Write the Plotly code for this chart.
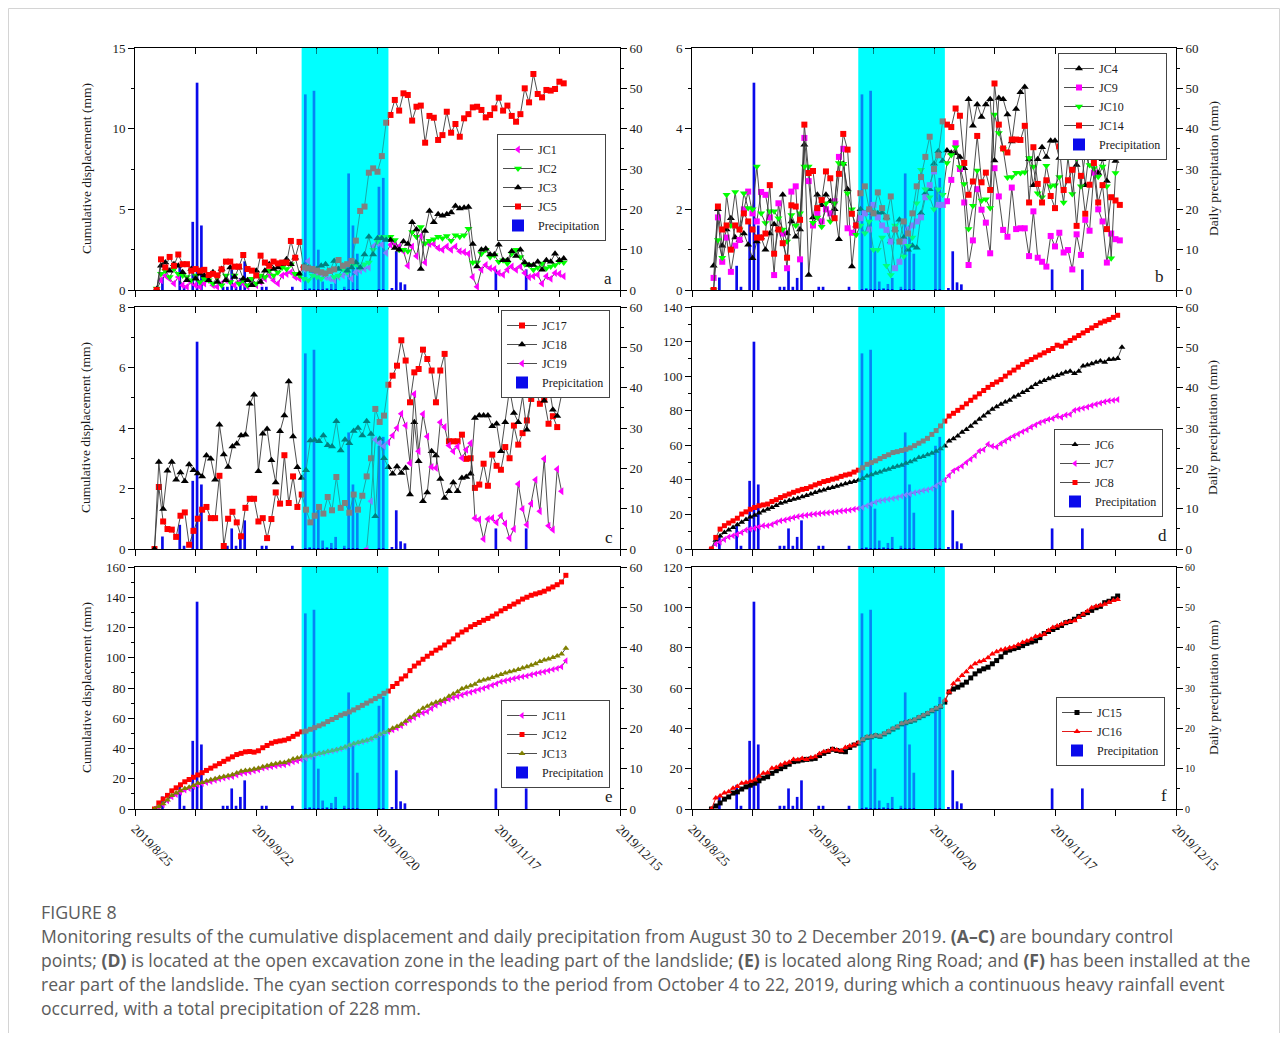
import plotly.graph_objects as go
import pandas as pd

W, H, OFF = 1272, 1025, 8

def xd(px):
    return (px - OFF) / W

def yd(py):
    return 1 - (py - OFF) / H

# ---------------- data ----------------
precip_dates = ["2019-08-31", "2019-09-04", "2019-09-05", "2019-09-07", "2019-09-08", "2019-09-09",
                "2019-09-14", "2019-09-15", "2019-09-16", "2019-09-17", "2019-09-18", "2019-09-19",
                "2019-09-23", "2019-09-24", "2019-09-30", "2019-10-03", "2019-10-04", "2019-10-05",
                "2019-10-06", "2019-10-07", "2019-10-08", "2019-10-09", "2019-10-10", "2019-10-12",
                "2019-10-13", "2019-10-14", "2019-10-15", "2019-10-20", "2019-10-21", "2019-10-23",
                "2019-10-24", "2019-10-25", "2019-10-26", "2019-11-16", "2019-11-23"]
precip_mm = [3.1, 6.0, 0.8, 16.9, 51.4, 16.0,
             0.8, 0.8, 5.1, 0.8, 3.0, 7.1,
             0.8, 0.8, 0.8, 48.5, 0.3, 49.4,
             10.0, 2.1, 0.5, 1.5, 3.0, 0.8,
             28.9, 16.0, 9.0, 25.6, 27.8, 0.5,
             9.6, 1.9, 1.4, 5.1, 5.1]

rain_start, rain_end = "2019-10-02 12:00", "2019-10-22 12:00"
x_range = ["2019-08-25", "2019-12-15"]
tick_dates = ["2019-08-25", "2019-09-08", "2019-09-22", "2019-10-06", "2019-10-20",
              "2019-11-03", "2019-11-17", "2019-12-01", "2019-12-15"]
tick_labels = ["2019/8/25", "", "2019/9/22", "", "2019/10/20", "", "2019/11/17", "", "2019/12/15"]

# panel a  (daily from 2019-08-30)
JC1 = [0.0, 0.6, 0.9, 0.7, 0.4, 0.8, 0.3, 0.2, 0.5, 0.3, 0.2, 0.4, 0.6, 0.3, 0.2, 0.4, 0.6, 0.5, 0.3, 0.5,
       0.4, 0.2, 0.6, 0.3, 0.5, 0.7, 0.9, 0.6, 0.4, 0.9, 1.0, 1.1, 0.8, 0.7, 1.3, 1.8, 1.2, 0.9, 1.0, 0.8,
       0.7, 0.6, 0.8, 0.9, 1.0, 0.7, 1.1, 1.2, 1.3, 1.4, 2.7, 2.9, 2.8,
       2.3, 2.8, 2.9, 2.7, 2.4, 1.5, 2.7, 2.1, 3.35, 1.7, 2.85, 2.85, 2.6, 2.5, 2.7, 2.5, 2.7, 2.4, 2.35, 2.25,
       0.8, 0.2, 1.25, 1.55, 1.35, 1.3, 1.05, 0.95, 1.25, 1.45, 1.25, 1.45, 1.05, 0.8, 0.85, 0.95, 0.4, 0.85,
       0.7, 1.05, 1.0, 0.85]
JC2 = [0.1, 1.0, 1.2, 0.8, 1.3, 1.0, 0.9, 0.8, 0.6, 0.9, 0.5, 0.7, 0.6, 0.4, 0.8, 0.3, 0.9, 0.5, 0.9, 0.4,
       0.6, 0.3, 0.7, 0.4, 0.9, 0.8, 1.2, 0.9, 1.1, 1.4, 1.3, 1.6, 1.0, 0.9, 0.7, 0.6, 0.9, 0.8, 0.7, 1.0,
       1.2, 0.8, 0.9, 1.3, 1.1, 1.5, 1.6, 1.4, 1.6, 1.7, 2.5, 3.0, 3.3,
       3.3, 3.3, 3.1, 2.5, 2.5, 2.4, 3.6, 3.3, 3.9, 2.9, 3.05, 3.15, 3.3, 3.2, 3.35, 3.05, 3.4, 3.3, 3.4, 3.8,
       1.7, 1.7, 2.25, 2.5, 2.05, 2.15, 1.75, 1.85, 1.65, 2.25, 2.5, 2.05, 1.6, 1.55, 1.25, 1.4, 1.65, 1.35,
       1.45, 1.55, 1.75, 1.7]
JC3 = [0.05, 1.5, 1.7, 1.2, 1.6, 1.5, 1.1, 0.6, 1.3, 0.7, 1.0, 0.9, 0.6, 1.1, 0.5, 1.3, 0.6, 1.4, 0.8, 1.4,
       0.7, 0.6, 0.3, 1.2, 0.5, 1.2, 1.6, 1.3, 1.4, 1.6, 1.9, 1.6, 2.0, 1.0, 1.5, 1.4, 1.2, 1.3, 1.5, 1.6,
       1.2, 1.8, 1.3, 1.5, 1.2, 1.4, 1.7, 1.4, 2.2, 3.3, 2.2, 3.2, 3.2,
       3.1, 3.1, 2.6, 2.5, 3.0, 2.85, 4.2, 3.75, 1.3, 3.65, 4.9, 4.2, 4.7, 4.6, 4.7, 4.8, 5.2, 5.05, 5.1, 5.15,
       2.85, 1.45, 2.5, 2.55, 2.2, 2.2, 2.8, 1.85, 1.85, 2.4, 2.1, 2.5, 1.7, 1.55, 1.55, 1.75, 1.25, 1.85,
       1.75, 2.25, 1.85, 1.95]
JC5 = [0.0, 1.9, 1.4, 2.05, 1.5, 2.2, 1.6, 1.6, 1.2, 1.3, 1.2, 1.25, 0.93, 1.0, 0.91, 1.28, 1.76, 1.76, 1.45, 1.45,
       2.17, 1.3, 1.2, 0.9, 2.13, 1.7, 1.5, 1.76, 1.65, 1.7, 1.7, 3.04, 2.0, 2.98, 1.4, 1.34, 1.3, 1.2, 1.1, 1.03,
       1.18, 1.28, 1.86, 1.5, 1.6, 1.8, 3.06, 4.9, 5.17, 7.27, 7.54, 7.33, 8.3,
       10.37, 10.85, 11.78, 11.12, 12.19, 12.09, 10.5, 11.36, 11.43, 9.13, 10.79, 10.68, 9.3, 9.6, 11.05, 9.75,
       10.29, 9.5, 10.64, 10.9, 11.32, 11.36, 11.16, 10.7, 10.85, 11.26, 11.92, 11.12, 11.43, 10.79, 10.43, 10.9,
       12.5, 11.63, 13.39, 12.15, 11.94, 12.4, 12.36, 12.46, 12.91, 12.81]

# panel b  (daily from 2019-08-30)
JC4 = [0.6, 2.0, 1.1, 1.5, 1.78, 1.3, 1.24, 1.4, 1.12, 0.79, 1.2, 1.3, 1.0, 1.4, 1.63, 1.5, 2.36, 1.4, 1.7, 1.32,
       1.5, 3.6, 0.37, 1.8, 2.36, 2.1, 2.36, 2.2, 2.0, 1.26, 3.13, 2.5, 0.58, 1.6, 2.0, 1.9, 2.0, 1.9, 1.9, 1.92,
       1.8, 1.2, 1.5, 1.74, 1.3, 1.0, 1.1, 1.05, 1.9, 2.4, 2.5, 3.13, 3.44,
       3.2, 3.46, 3.4, 3.39, 3.3, 3.02, 4.73, 4.07, 4.6, 4.29, 4.6, 4.73, 3.21, 4.76, 4.73, 4.35, 3.68, 4.49, 4.9, 5.03,
       3.24, 2.6, 3.24, 3.54, 3.3, 3.7, 3.7, 3.27, 3.35, 3.35, 3.6, 3.1, 3.55, 2.6, 3.5, 3.3, 2.9, 3.24, 2.7, 3.6,
       3.2, 3.46]
JC9 = [0.3, 1.8, 0.7, 1.3, 0.45, 1.1, 1.24, 2.0, 2.44, 1.9, 1.7, 2.43, 2.36, 1.8, 0.37, 2.15, 1.4, 0.54, 2.44, 2.57,
       0.76, 3.77, 2.7, 1.6, 1.9, 1.7, 2.0, 1.9, 2.2, 3.3, 3.5, 1.53, 1.42, 1.6, 1.78, 1.9, 1.5, 2.11, 1.8, 1.6,
       1.49, 1.2, 0.54, 0.7, 1.2, 1.5, 1.6, 1.7, 1.8, 2.3, 2.6, 2.94, 2.11,
       2.11, 2.2, 2.73, 3.64, 3.0, 2.17, 0.62, 1.23, 2.5, 1.99, 1.67, 0.91, 3.02, 2.32, 1.49, 1.32, 2.54, 1.51,
       1.53, 1.53, 0.84, 1.95, 0.8, 0.7, 0.58, 1.34, 1.08, 1.42, 0.93, 0.99, 0.51, 1.38, 0.87, 1.74, 1.47, 2.91,
       2.0, 1.7, 0.68, 1.4, 1.26, 1.23]
JC10 = [0.0, 1.24, 0.8, 2.36, 1.6, 2.43, 1.5, 2.4, 2.03, 2.0, 3.06, 1.9, 1.66, 1.95, 1.95, 1.78, 1.5, 1.2, 1.86, 1.6,
        1.9, 3.06, 3.06, 1.67, 1.8, 1.57, 2.15, 1.7, 2.15, 3.15, 3.13, 2.4, 2.0, 1.37, 1.6, 1.41, 1.7, 1.0, 1.0, 1.3,
        0.6, 0.37, 1.6, 1.2, 0.83, 1.1, 1.3, 2.15, 2.98, 2.5, 2.3, 2.0, 2.5,
        2.36, 3.15, 3.35, 3.54, 3.05, 2.63, 1.51, 2.09, 2.96, 2.22, 2.25, 2.03, 4.35, 3.89, 3.49, 2.79, 2.8, 2.91,
        2.9, 2.92, 3.27, 3.06, 2.4, 2.3, 3.08, 2.57, 2.6, 2.8, 2.17, 3.29, 2.38, 3.27, 2.57, 3.35, 3.1, 3.02,
        2.81, 3.06, 2.57, 0.79, 2.9, 3.48]
JC14 = [0.0, 2.07, 1.5, 1.6, 1.0, 1.6, 1.5, 1.9, 1.7, 1.5, 1.3, 1.3, 1.4, 2.6, 0.9, 1.5, 1.16, 0.8, 2.1, 2.07,
        1.74, 4.1, 2.9, 2.95, 2.03, 2.23, 2.94, 2.77, 1.78, 2.88, 3.87, 3.48, 1.89, 1.6, 2.4, 2.57, 2.0, 1.9, 2.42, 2.03,
        1.8, 2.32, 1.5, 1.2, 1.7, 1.4, 1.9, 2.57, 2.8, 3.3, 3.8, 3.0, 3.34,
        4.18, 4.1, 4.04, 4.5, 4.32, 3.15, 2.36, 2.69, 3.82, 2.67, 2.91, 2.48, 5.12, 4.1, 3.51, 3.41, 3.73, 3.73,
        3.72, 4.07, 2.17, 3.54, 2.63, 2.17, 2.72, 2.33, 2.03, 3.56, 2.48, 2.72, 2.98, 1.59, 2.83, 1.89, 2.61, 3.15,
        2.17, 2.6, 1.51, 2.3, 2.22, 2.11]

# panel c  (daily from 2019-08-29; JC19 from 2019-10-17)
JC17 = [0, 2.05, 0.91, 0.66, 0.64, 0.4, 1.1, 1.21, 0.14, 0.6, 1.0, 1.3,
        1.39, 1.02, 1.02, 2.42, 0.1, 1.0, 1.23, 0.88, 0.42, 1.36,
        1.66, 1.66, 0.91, 1.02, 0.36, 0.99, 1.87, 1.5, 3.1, 1.52,
        2.4, 1.39, 1.8, 1.3, 0.88, 1.1, 1.39, 1.17, 1.72, 1.28,
        2.38, 1.36, 1.52, 1.2, 1.8, 1.3, 1.76, 2.4, 3.0, 4.63,
        4.2, 4.41, 5.43, 5.73, 6.06, 6.9, 6.23, 4.85, 5.84, 5.95,
        6.59, 6.28, 5.9, 4.85, 5.9, 6.45, 3.56, 3.56, 3.56, 3.78,
        2.98, 3.0, 2.02, 2.13, 2.82, 2.09, 3.12, 2.75, 2.62, 3.37,
        3.0, 4.08, 3.45, 3.83, 4.25, 4.96, 5.3, 4.8, 4.94, 4.14,
        4.39, 4.03]
JC18 = [0, 2.88, 1.32, 2.59, 2.88, 2.29, 2.53, 2.24, 2.79, 2.6, 2.5, 2.4,
        3.09, 2.98, 2.29, 4.11, 3.12, 2.71, 3.39, 3.48, 3.75, 3.78,
        4.8, 5.1, 2.57, 3.81, 3.97, 2.93, 2.2, 3.89, 4.41, 5.54,
        3.72, 2.7, 2.35, 2.6, 3.59, 3.6, 3.56, 3.75, 3.43, 3.39,
        4.22, 3.26, 3.61, 3.5, 3.9, 4.0, 3.75, 4.22, 3.8, 1.08,
        3.64, 3.0, 2.7, 2.49, 2.73, 2.51, 2.68, 1.8, 4.19, 2.9,
        1.58, 1.87, 3.23, 3.09, 2.31, 1.69, 1.91, 2.2, 1.91, 2.35,
        2.38, 2.49, 4.33, 4.41, 4.41, 4.41, 4.06, 4.14, 3.23, 4.19,
        5.29, 4.5, 4.19, 5.05, 3.94, 5.05, 5.3, 5.6, 4.9, 5.5,
        4.6, 4.4, 5.1]
JC19 = [0.0, 1.58, 3.61, 3.5, 3.4, 3.53, 3.75, 4.0, 4.47, 4.08, 2.84, 5.12, 3.23, 4.46, 3.72, 2.71, 2.68,
        4.19, 4.03, 3.42, 3.23, 3.39, 3.01, 3.28, 3.5, 1.02, 0.97, 0.33, 0.99, 1.02, 0.88, 1.1, 0.84, 0.36,
        0.66, 2.15, 1.32, 0.8, 1.5, 2.29, 1.25, 2.98, 0.77, 0.64, 2.64, 1.91]

# panel d  (daily from 2019-08-29)
JC6 = [0, 5, 7.5, 9.5, 11, 12.5, 14, 15.5, 17, 18.5,
       19.5, 20.8, 22, 23, 24, 25.2, 26.5, 27.2, 28, 28.8,
       29.4, 30.2, 31, 31.8, 32.7, 33.5, 34.2, 35, 35.6, 36.3,
       37, 37.8, 38.5, 39, 39.8, 40.8, 42.3, 43, 43.8, 44.6,
       45.5, 46.2, 47.1, 47.8, 48.5, 49.6, 50.5, 51.5, 52.9, 53.5,
       54.5, 55.4, 56.5, 58, 59.6, 62.5, 63.8, 65.4, 67.5, 69.2,
       71, 73.1, 75, 76.9, 78.8, 80.8, 82.3, 83.7, 85, 86,
       88, 89, 90.5, 91.7, 93.5, 95.2, 96.5, 97.5, 98.5, 99.4,
       100.4, 101.3, 102.2, 102.9, 101.5, 102.9, 105.8, 106.5, 107.1, 108,
       108.7, 108, 109.6, 109.8, 110.2, 116.7]
JC7 = [0.5, 2.9, 4, 5.5, 7, 7.7, 8.5, 9.5, 11, 11.5,
       12, 12.8, 13.5, 13.5, 14.2, 15.3, 16.3, 16.8, 17.5, 18.2,
       18.8, 19.2, 19.5, 20, 20.2, 20.5, 20.8, 21, 21.2, 21.5,
       22, 22.2, 22.5, 23, 23.5, 24, 25, 26, 27, 27.9,
       28.3, 28.8, 29.2, 29.8, 30.5, 31.2, 31.8, 32.5, 33.1, 33.8,
       34.3, 35, 36.5, 38, 40, 42.5, 45.2, 46.5, 48, 50,
       51.9, 54, 56.7, 57.5, 60.6, 59.5, 59, 61, 62.5, 64,
       65.4, 66.5, 67.9, 69, 70.6, 71.8, 73.1, 74, 75, 75.5,
       76.9, 76.2, 77.5, 77.9, 80.2, 80.8, 81.5, 82.1, 83, 83.7,
       84.5, 85.2, 85.8, 86, 86.5]
JC8 = [0, 6.7, 11.5, 13.5, 15, 16.3, 17.8, 20.2, 21.5, 23,
       24, 25, 25.5, 26, 27.5, 28.5, 29.8, 30.8, 31.8, 32.8,
       33.7, 34.5, 35, 36, 37.1, 38, 39, 39.6, 40.4, 41,
       42, 42.8, 43.3, 44.5, 45.6, 47, 49, 50, 51, 52.3,
       53.5, 54.5, 55.8, 56.3, 57, 57.7, 58.5, 59.8, 61.2, 62.5,
       64, 66.3, 68.5, 71.2, 74, 76.9, 78.5, 80.2, 82, 84,
       86, 87.9, 89.8, 91.7, 93.5, 95.2, 96.6, 98, 100, 101.9,
       103.5, 105.2, 106.8, 108.3, 109.6, 111, 112.2, 113.5, 114.8, 116,
       117.9, 117.3, 119.2, 120.6, 122.1, 123.5, 125, 126.4, 127.9, 129.3,
       130.8, 131.8, 132.7, 134, 135.2]

# panel e  (daily from 2019-08-29)
JC11 = [0, 1, 3, 5.5, 8, 9.5, 11, 12.5, 13.5, 14.8,
        16, 16.8, 17.5, 18.2, 19, 19.8, 20.5, 21.1, 21.5, 22.5,
        23.5, 24, 24.5, 25.2, 26, 27, 27.5, 28, 28.5, 29,
        29.2, 30.2, 31.2, 31.8, 32.5, 33.5, 34.5, 35.5, 36.5, 37,
        37.8, 38.3, 39, 39.8, 40.8, 42, 43, 43.8, 44.5, 45.3,
        46.3, 47.8, 49.3, 50.3, 51.2, 52.3, 53.5, 55, 57, 59,
        60.5, 62.3, 63.5, 64.4, 66.5, 68.5, 69.9, 71.2, 72.5, 73.5,
        74.5, 75.4, 76.5, 77.2, 78, 79, 79.8, 80.8, 81.8, 82.8,
        84.2, 84.8, 85.5, 86.3, 87, 87.5, 88, 88.8, 89.5, 90.2,
        90.8, 91.5, 92.3, 93, 94.1, 98]
JC12 = [0, 4, 6.6, 9, 12, 14, 16, 18, 19.5, 21,
        22.5, 24, 25.5, 27, 28.5, 30, 31.5, 33, 34.5, 36,
        36.8, 37.8, 38, 37.6, 38.5, 40.5, 42, 43.5, 44.5, 45,
        45.5, 46.5, 48, 49.5, 51, 51.5, 52.7, 53.8, 55, 56.2,
        57.8, 59.2, 60.5, 62, 63, 64.2, 65.5, 67, 68.5, 70,
        71.5, 73, 74.5, 76.5, 78, 81, 83, 86, 88, 91.5,
        94.5, 96.5, 99, 101, 103, 105, 106.5, 108.4, 110.5, 112.5,
        115, 117, 118.5, 120.5, 122, 123.3, 124.8, 126, 127.5, 129,
        131, 132.5, 134, 135.5, 137, 138.8, 140, 141.3, 142.2, 143,
        144, 145.5, 146.8, 148.3, 150.1, 154.5]
JC13 = [0, 1.5, 3.5, 6, 9, 10.5, 12, 13.5, 14.3, 15.5,
        17, 17.6, 18.5, 19.3, 20, 20.8, 21.5, 22, 22.6, 23.8,
        25, 25.5, 25.8, 26.4, 27, 28, 28.6, 29.5, 30, 30.5,
        30.8, 31.8, 33, 33.8, 34.5, 35, 35.2, 36, 36.8, 37.2,
        38, 38.5, 39.2, 40, 41, 42.2, 43.2, 44, 44.8, 45.5,
        46.5, 48, 49.5, 50.5, 51.8, 53.4, 54.5, 56, 58, 60.5,
        62.2, 64.5, 66.6, 68, 69.5, 70.5, 71.5, 72.5, 74.5, 76,
        77.5, 79.5, 80.5, 81.5, 82.5, 84.5, 85.3, 86, 87, 88,
        89, 90, 90.8, 91.4, 92.2, 93.3, 94, 95, 96, 97.5,
        98.5, 99.2, 100.2, 101.2, 102.4, 106.2]

# panel f  (daily from 2019-08-29)
JC15 = [0, 1.5, 3, 4.9, 6, 7.9, 8.5, 9.9, 11, 11.8,
        12.8, 14, 15.3, 16, 17.7, 19, 20, 21, 22.2, 23.5,
        23.8, 24.3, 24.6, 24.8, 25.1, 26.5, 27.6, 28.5, 29.6, 29,
        28.6, 28.4, 30.5, 31.7, 32.6, 34.3, 35.5, 35.8, 36.4, 36,
        37.2, 38.3, 39.6, 40.6, 42.2, 42.8, 43.4, 44.1, 45.3, 46.3,
        47.3, 48.7, 49.8, 50.8, 53, 58, 59.5, 60.4, 61.5, 62.9,
        65, 67, 68.5, 69.5, 70.3, 72, 73.6, 75.5, 77.7, 78.8,
        79.5, 80.1, 81, 82.1, 82.8, 83.4, 85, 87, 88, 89,
        90, 91, 92.4, 93, 94.1, 95.5, 96.5, 97.4, 98.5, 99.8,
        100.5, 102.3, 103, 104.2, 105.6]
JC16 = [0, 5.4, 6.5, 7.9, 8.6, 10.3, 11.2, 12.8, 13.2, 13.8,
        14.4, 16.2, 17.7, 18, 20.2, 20.6, 21.8, 22.7, 23.2, 24.6,
        24.4, 25, 24.6, 25.4, 25.9, 27.4, 28.4, 28.8, 29.6, 29.3,
        28.9, 30.5, 31.2, 31.7, 32.8, 34.5, 35.8, 36, 36.6, 36.2,
        37.4, 38.5, 39.9, 40.8, 42.4, 43, 43.6, 44.3, 45.5, 46.5,
        47.5, 48.9, 50, 51, 53.9, 58, 62.1, 64, 66.2, 68,
        70.3, 72, 73, 73.6, 75, 76.8, 78, 78.8, 79.3, 80,
        80.5, 81.5, 82.6, 83.3, 84.2, 85.5, 86, 86.7, 88.5, 90,
        90.8, 91.6, 92.5, 93, 93.3, 95, 96.6, 98, 99.8, 100.5,
        101, 101.5, 102.5, 103.4, 103.9]

# ---------------- styling ----------------
SERIF = "Liberation Serif"
RED, BLACK, MAG, GREEN, OLIVE = "#ff0000", "#000000", "#ff00ff", "#00ff00", "#808000"
LINE = "#3a3a3a"
BLUE = "#0a0aeb"
CYAN = "#00ffff"

START_AB = "2019-08-30"
START_CF = "2019-08-29 12:00"

cols = [(135, 620), (692, 1176)]
rows = [(48, 290), (307, 549), (567, 809)]

panels = [
    dict(letter="a", col=0, row=0, ymax=15, dtick=5, minor=2.5, leg=(497, 134), lpos=(608, 278),
         bar="Precipitation",
         series=[("JC1", JC1, START_AB, MAG, "triangle-left", 7, LINE),
                 ("JC2", JC2, START_AB, GREEN, "triangle-down", 7, LINE),
                 ("JC3", JC3, START_AB, BLACK, "triangle-up", 7, LINE),
                 ("JC5", JC5, START_AB, RED, "square", 6, LINE)]),
    dict(letter="b", col=1, row=0, ymax=6, dtick=2, minor=1, leg=(1058, 53), lpos=(1159, 276),
         bar="Precipitation",
         series=[("JC4", JC4, START_AB, BLACK, "triangle-up", 7, LINE),
                 ("JC9", JC9, START_AB, MAG, "square", 6, LINE),
                 ("JC10", JC10, START_AB, GREEN, "triangle-down", 7, LINE),
                 ("JC14", JC14, START_AB, RED, "square", 6, LINE)]),
    dict(letter="c", col=0, row=1, ymax=8, dtick=2, minor=1, leg=(501, 310), lpos=(609, 537),
         bar="Prepicitation",
         series=[("JC17", JC17, START_CF, RED, "square", 6, LINE),
                 ("JC18", JC18, START_CF, BLACK, "triangle-up", 7, LINE),
                 ("JC19", JC19, "2019-10-17 12:00", MAG, "triangle-left", 7, LINE)]),
    dict(letter="d", col=1, row=1, ymax=140, dtick=20, minor=10, leg=(1054, 429), lpos=(1162, 535),
         bar="Precipitation",
         series=[("JC6", JC6, START_CF, BLACK, "triangle-up", 6, LINE),
                 ("JC7", JC7, START_CF, MAG, "triangle-left", 6, LINE),
                 ("JC8", JC8, START_CF, RED, "square", 5, LINE)]),
    dict(letter="e", col=0, row=2, ymax=160, dtick=20, minor=10, leg=(501, 700), lpos=(609, 796),
         bar="Precipitation",
         series=[("JC11", JC11, START_CF, MAG, "triangle-left", 6, LINE),
                 ("JC12", JC12, START_CF, RED, "square", 5, LINE),
                 ("JC13", JC13, START_CF, OLIVE, "triangle-up", 6, LINE)]),
    dict(letter="f", col=1, row=2, ymax=120, dtick=20, minor=10, leg=(1056, 697), lpos=(1164, 795),
         bar="Precipitation",
         series=[("JC15", JC15, START_CF, BLACK, "square", 5, LINE),
                 ("JC16", JC16, START_CF, RED, "triangle-up", 6, "#e00000")]),
]

fig = go.Figure()
layout = dict(width=W, height=H, margin=dict(l=0, r=0, t=0, b=0, autoexpand=False),
              paper_bgcolor="white", plot_bgcolor="rgba(0,0,0,0)", showlegend=True)
shapes = []
annotations = []

tickfont = dict(family=SERIF, size=13, color="#1a1a1a")

def yname(n):
    return "y" if n == 1 else f"y{n}"

def ykey(n):
    return "yaxis" if n == 1 else f"yaxis{n}"

def xname(n):
    return "x" if n == 1 else f"x{n}"

def xkey(n):
    return "xaxis" if n == 1 else f"xaxis{n}"

bar_x = [pd.Timestamp(d) + pd.Timedelta(hours=8) for d in precip_dates]

for i, p in enumerate(panels, start=1):
    c0, c1 = cols[p["col"]]
    r0, r1 = rows[p["row"]]
    base_y = 2 * i - 1
    over_y = 2 * i
    top_x = i + 6
    legname = "legend" if i == 1 else f"legend{i}"

    for name, vals, start, color, sym, size, lcol in p["series"]:
        xs = pd.date_range(start=start, periods=len(vals), freq="D")
        fig.add_trace(go.Scatter(
            x=xs, y=vals, name=name, mode="lines+markers",
            line=dict(color=lcol, width=0.9),
            marker=dict(color=color, symbol=sym, size=size, line=dict(width=0)),
            xaxis=xname(i), yaxis=yname(over_y), legend=legname, hoverinfo="skip"))
    fig.add_trace(go.Bar(
        x=bar_x, y=precip_mm, name=p["bar"], marker=dict(color=BLUE, line=dict(width=0)),
        width=0.62 * 86400000, xaxis=xname(i), yaxis=yname(base_y), legend=legname,
        hoverinfo="skip"))
    fig.add_trace(go.Scatter(
        x=bar_x, y=precip_mm, mode="lines", line=dict(width=0), opacity=0,
        showlegend=False, hoverinfo="skip", xaxis=xname(top_x), yaxis=yname(base_y)))

    bottom = p["row"] == 2
    layout[xkey(i)] = dict(
        type="date", domain=[xd(c0), xd(c1)], anchor=yname(base_y), range=x_range,
        tickmode="array", tickvals=tick_dates, ticktext=tick_labels,
        showticklabels=bottom, tickangle=45, tickfont=tickfont,
        ticks="outside", ticklen=6, tickwidth=1, tickcolor="black",
        showline=True, linecolor="black", linewidth=1, mirror=True,
        showgrid=False, zeroline=False, automargin=False)
    layout[xkey(top_x)] = dict(
        type="date", overlaying=xname(i), anchor=yname(base_y), side="top", range=x_range,
        tickmode="array", tickvals=tick_dates, showticklabels=False,
        ticks="inside", ticklen=6, tickwidth=1, tickcolor="black",
        showline=False, showgrid=False, zeroline=False, automargin=False)
    rfont = dict(tickfont) if p["letter"] != "f" else dict(family=SERIF, size=10, color="#1a1a1a")
    layout[ykey(base_y)] = dict(
        domain=[yd(r1), yd(r0)], anchor=xname(i), side="right", range=[0, 60],
        tickmode="linear", tick0=0, dtick=10, tickfont=rfont,
        ticks="outside", ticklen=6, tickwidth=1, tickcolor="black",
        minor=dict(dtick=5, ticks="outside", ticklen=3, tickcolor="black"),
        showline=True, linecolor="black", linewidth=1,
        showgrid=False, zeroline=False, automargin=False)
    layout[ykey(over_y)] = dict(
        overlaying=yname(base_y), anchor=xname(i), side="left", range=[0, p["ymax"]],
        tickmode="linear", tick0=0, dtick=p["dtick"], tickfont=tickfont,
        ticks="outside", ticklen=6, tickwidth=1, tickcolor="black",
        minor=dict(dtick=p["minor"], ticks="outside", ticklen=3, tickcolor="black"),
        showline=True, linecolor="black", linewidth=1,
        showgrid=False, zeroline=False, automargin=False)

    lx, ly = p["leg"]
    layout[legname] = dict(
        x=xd(lx), y=yd(ly), xanchor="left", yanchor="top", bgcolor="white",
        bordercolor="#444", borderwidth=1, font=dict(family=SERIF, size=12, color="#1a1a1a"),
        itemwidth=30, tracegroupgap=0, traceorder="normal")

    shapes.append(dict(type="rect", xref=xname(i), yref=f"{yname(base_y)} domain",
                       x0=rain_start, x1=rain_end, y0=0, y1=1,
                       fillcolor=CYAN, line=dict(width=0), layer="below"))
    shapes.append(dict(type="rect", xref=xname(i), yref=f"{yname(base_y)} domain",
                       x0=rain_start, x1=rain_end, y0=0.004, y1=0.996,
                       fillcolor=CYAN, opacity=0.5, line=dict(width=0), layer="above"))

    annotations.append(dict(text=p["letter"], x=xd(p["lpos"][0]), y=yd(p["lpos"][1]),
                            xref="paper", yref="paper", showarrow=False,
                            xanchor="center", yanchor="middle",
                            font=dict(family=SERIF, size=17, color="#1a1a1a")))

for (r0, r1) in rows:
    yc = yd((r0 + r1) / 2)
    annotations.append(dict(text="Cumulative displacement (mm)", x=xd(86), y=yc, xref="paper",
                            yref="paper", showarrow=False, textangle=-90,
                            xanchor="center", yanchor="middle",
                            font=dict(family=SERIF, size=13.5, color="#1a1a1a")))
    annotations.append(dict(text="Daily precipitation (mm)", x=xd(1213), y=yc, xref="paper",
                            yref="paper", showarrow=False, textangle=-90,
                            xanchor="center", yanchor="middle",
                            font=dict(family=SERIF, size=13.5, color="#1a1a1a")))

CAP = "Open Sans"
CAPCOL = "#5c5c5c"
annotations.append(dict(text="FIGURE 8", x=xd(39), y=yd(912), xref="paper", yref="paper",
                        xanchor="left", yanchor="middle", showarrow=False,
                        font=dict(family=CAP, size=17.8, color=CAPCOL)))
caption_lines = [
    "Monitoring results of the cumulative displacement and daily precipitation from August 30 to 2 December 2019. <b>(A–C)</b> are boundary control",
    "points; <b>(D)</b> is located at the open excavation zone in the leading part of the landslide; <b>(E)</b> is located along Ring Road; and <b>(F)</b> has been installed at the",
    "rear part of the landslide. The cyan section corresponds to the period from October 4 to 22, 2019, during which a continuous heavy rainfall event",
    "occurred, with a total precipitation of 228 mm.",
]
for k, line in enumerate(caption_lines):
    annotations.append(dict(text=line, x=xd(39), y=yd(936 + 24 * k), xref="paper", yref="paper",
                            xanchor="left", yanchor="middle", showarrow=False,
                            font=dict(family=CAP, size=17.6, color=CAPCOL)))

shapes.append(dict(type="rect", xref="paper", yref="paper", x0=0.0004, x1=0.9996, y0=-0.05, y1=0.9995,
                   line=dict(color="#d4d4d4", width=1), fillcolor="rgba(0,0,0,0)", layer="below"))

layout["shapes"] = shapes
layout["annotations"] = annotations
fig.update_layout(**layout)

fig.write_html("out.html")
